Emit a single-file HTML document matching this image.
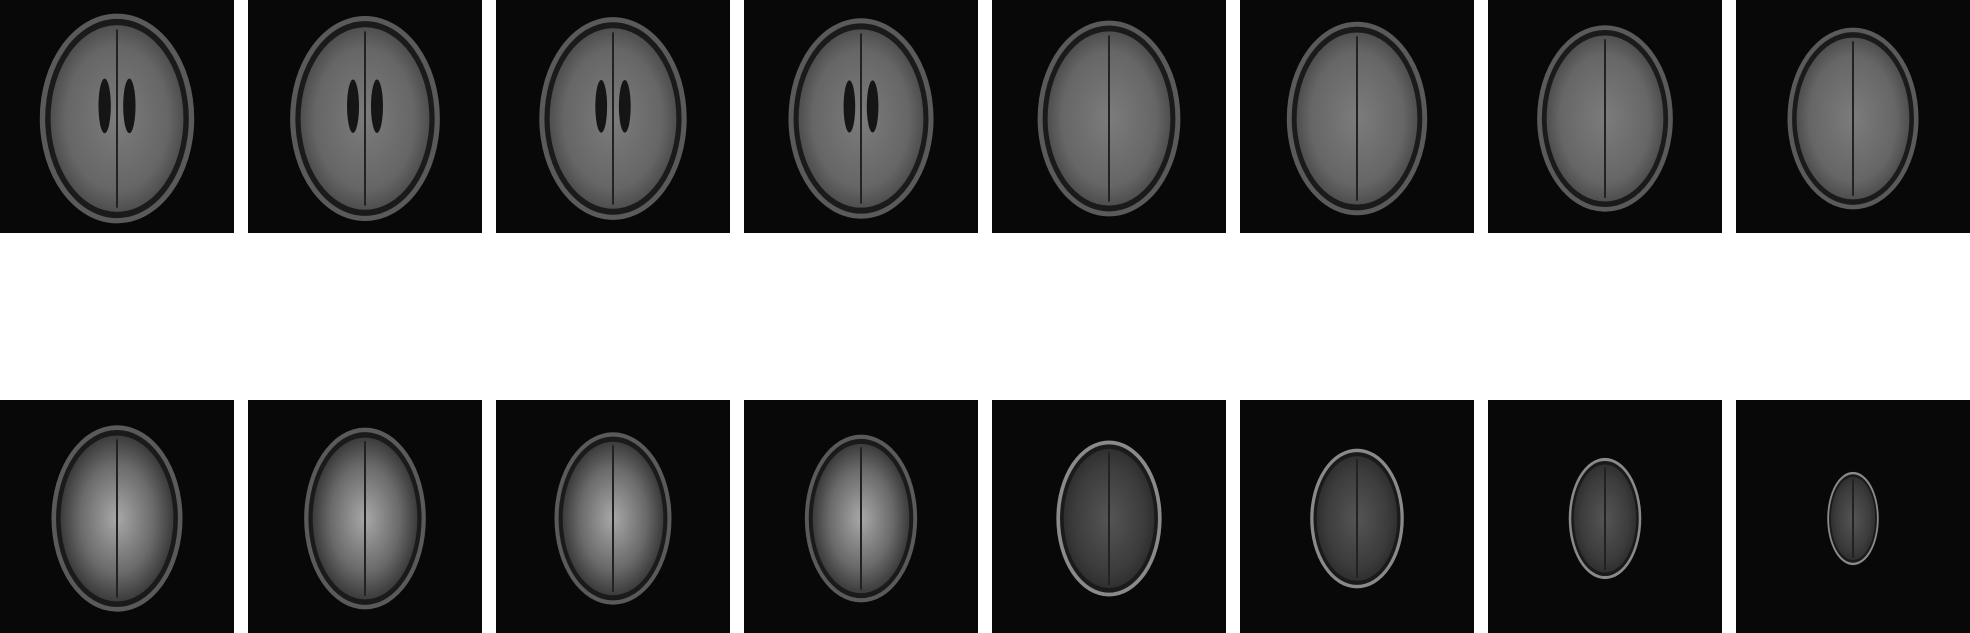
<!DOCTYPE html>
<html><head><meta charset="utf-8"><style>
html,body{margin:0;padding:0;background:#fff;width:1970px;height:633px;overflow:hidden}
svg{display:block}
</style></head><body>
<svg id="g" width="1970" height="633">
<defs>
<radialGradient id="brain" cx="50%" cy="50%" r="55%">
<stop offset="0" stop-color="#7c7c7c"/><stop offset="0.7" stop-color="#666"/><stop offset="1" stop-color="#444"/>
</radialGradient>
<radialGradient id="brain2" cx="50%" cy="50%" r="55%">
<stop offset="0" stop-color="#a8a8a8"/><stop offset="0.6" stop-color="#6a6a6a"/><stop offset="1" stop-color="#2e2e2e"/>
</radialGradient>
<radialGradient id="brain3" cx="50%" cy="50%" r="55%">
<stop offset="0" stop-color="#555"/><stop offset="0.7" stop-color="#3c3c3c"/><stop offset="1" stop-color="#2a2a2a"/>
</radialGradient>
</defs>
</svg>
<script>
// head size fractions of panel per slice (row 1 then row 2)
const headW = [0.66,0.64,0.63,0.62,0.61,0.60,0.58,0.56, 0.56,0.52,0.50,0.48,0.45,0.40,0.31,0.22];
const headH = [0.90,0.88,0.87,0.86,0.84,0.83,0.80,0.78, 0.80,0.78,0.74,0.72,0.67,0.60,0.52,0.40];
const brainStyle = [0,0,0,0,0,0,0,0, 1,1,1,1,2,2,2,2];
const svg=document.getElementById('g');
const NS='http://www.w3.org/2000/svg';
const PW=234,PH=233,PITCH=248,ROWY=[0,400];
const fills=['url(#brain)','url(#brain2)','url(#brain3)'];
function mk(t,a,p){const e=document.createElementNS(NS,t);for(const k in a)e.setAttribute(k,a[k]);p.appendChild(e);return e;}
for(let i=0;i<16;i++){
  const r=Math.floor(i/8),c=i%8;
  const x=c*PITCH,y=ROWY[r];
  const g=mk('g',{},svg);
  
  
  mk('rect',{x:x,y:y,width:PW,height:PH,fill:'#080808'},g);
  const cx=x+PW/2,cy=y+PH/2+2;
  const rx=headW[i]*PW/2,ry=headH[i]*PH/2;
  const s=brainStyle[i];
  mk('ellipse',{cx:cx,cy:cy,rx:rx,ry:ry,fill:s===2?'#8a8a8a':'#5a5a5a'},g);
  mk('ellipse',{cx:cx,cy:cy,rx:rx*0.93,ry:ry*0.95,fill:'#1a1a1a'},g);
  mk('ellipse',{cx:cx,cy:cy,rx:rx*0.86,ry:ry*0.89,fill:fills[s]},g);
  mk('line',{x1:cx,y1:cy-ry*0.85,x2:cx,y2:cy+ry*0.85,stroke:'#222',"stroke-width":2},g);
  if(i<4){
    mk('ellipse',{cx:cx-rx*0.16,cy:cy-ry*0.12,rx:rx*0.08,ry:ry*0.26,fill:'#151515'},g);
    mk('ellipse',{cx:cx+rx*0.16,cy:cy-ry*0.12,rx:rx*0.08,ry:ry*0.26,fill:'#151515'},g);
  }
}
</script>
</body></html>
